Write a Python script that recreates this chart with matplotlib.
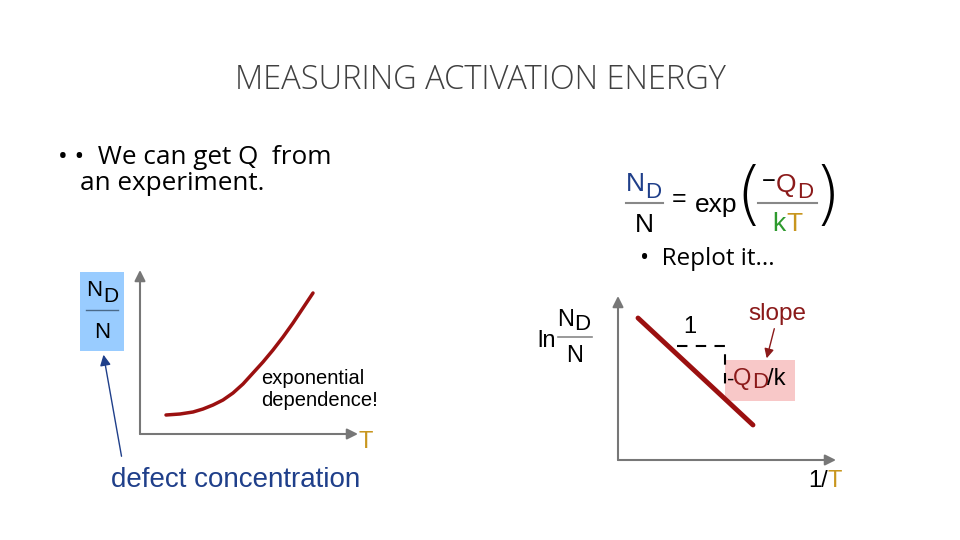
import matplotlib.pyplot as plt
from matplotlib.patches import Rectangle

# slide texts
title = "MEASURING ACTIVATION ENERGY"
bullet_lines = ["• •  We can get Q  from", "an experiment."]
replot_text = "•  Replot it..."

# left sketch: N_D/N vs T (exponential curve)
temp = [26, 40, 53, 63, 73, 83, 93, 103, 113, 123, 133, 143, 153, 163, 173]
conc = [19, 20, 22, 25, 29, 34, 41, 50, 61, 72, 84, 97, 111, 126, 141]

# right sketch: ln(N_D/N) vs 1/T (straight line)
inv_temp = [20, 135]
ln_conc = [142, 35]
tri_x = [59, 107, 107]
tri_y = [114, 114, 70]

W, H = 960, 540
fig = plt.figure(figsize=(9.6, 5.4), dpi=100)
ax = fig.add_axes([0, 0, 1, 1])
ax.set_xlim(0, W)
ax.set_ylim(H, 0)
ax.axis("off")

plt.rcParams["font.family"] = ["Open Sans", "DejaVu Sans"]
sf = ["Liberation Sans", "DejaVu Sans"]
navy = "#1f3f8a"
dred = "#8b1a1a"
gold = "#c8961e"
green = "#2e9a2e"

ax.text(480, 80, title, ha="center", va="center", fontsize=23.5, color="#404040",
        fontweight="light")
ax.text(58, 157, bullet_lines[0], ha="left", va="center", fontsize=18.8, color="black")
ax.text(80, 183, bullet_lines[1], ha="left", va="center", fontsize=18.8, color="black")
ax.text(640, 259, replot_text, ha="left", va="center", fontsize=17.5, color="black")

# formula N_D/N = exp(-Q_D/kT)
ax.text(626, 184, "N", ha="left", va="center", fontsize=19, color=navy, family=sf)
ax.text(645, 192, "D", ha="left", va="center", fontsize=16, color=navy, family=sf)
ax.plot([626, 663], [203, 203], color="#888888", lw=1.5)
ax.text(644, 225, "N", ha="center", va="center", fontsize=19, color="black", family=sf)
ax.text(679, 199, "=", ha="center", va="center", fontsize=18, color="black", family=sf)
ax.text(716, 205, "exp", ha="center", va="center", fontsize=19, color="black", family=sf)
ax.text(749, 198, "(", ha="center", va="center", fontsize=50, color="black",
        family="DejaVu Sans", fontweight="ultralight")
ax.text(827, 198, ")", ha="center", va="center", fontsize=50, color="black",
        family="DejaVu Sans", fontweight="ultralight")
ax.text(762, 182, "−", ha="left", va="center", fontsize=17, color="black", family=sf)
ax.text(776, 185, "Q", ha="left", va="center", fontsize=19, color=dred, family=sf)
ax.text(797, 192, "D", ha="left", va="center", fontsize=16, color=dred, family=sf)
ax.plot([758, 817], [203, 203], color="#888888", lw=1.5)
ax.text(772, 224, "k", ha="left", va="center", fontsize=19, color=green, family=sf)
ax.text(786, 224, "T", ha="left", va="center", fontsize=19, color=gold, family=sf)

# ---- left sketch ----
ax.add_patch(Rectangle((80, 272), 44, 79, color="#99ccff", lw=0))
ax.text(86, 291, "N", ha="left", va="center", fontsize=16, color="black", family=sf)
ax.text(103, 296, "D", ha="left", va="center", fontsize=15, color="black", family=sf)
ax.plot([86, 118], [310, 310], color="#4a6a8a", lw=1)
ax.text(102, 333, "N", ha="center", va="center", fontsize=16, color="black", family=sf)
ax.annotate("", xy=(103, 352), xytext=(122, 459),
            arrowprops=dict(arrowstyle="-|>", color=navy, lw=1, mutation_scale=16))
ax.text(236, 480, "defect concentration", ha="center", va="center", fontsize=20,
        color=navy, family=sf)
ax.text(261, 378, "exponential", ha="left", va="center", fontsize=14.5, color="black", family=sf)
ax.text(261, 401, "dependence!", ha="left", va="center", fontsize=14.5, color="black", family=sf)
ax.text(366, 442, "T", ha="center", va="center", fontsize=17, color=gold, family=sf)

ax1 = fig.add_axes([140 / W, (H - 434) / H, 220 / W, 161 / H])
ax1.set_xlim(0, 220)
ax1.set_ylim(0, 161)
ax1.axis("off")
ax1.plot(temp, conc, color="#9b1010", lw=2.5, solid_capstyle="round")
ax1.annotate("", xy=(0, 164), xytext=(0, 0),
             arrowprops=dict(arrowstyle="-|>", color="#777777", lw=1.5, mutation_scale=16,
                             shrinkA=0, shrinkB=0), annotation_clip=False)
ax1.annotate("", xy=(218, 0), xytext=(0, 0),
             arrowprops=dict(arrowstyle="-|>", color="#777777", lw=1.5, mutation_scale=16,
                             shrinkA=0, shrinkB=0), annotation_clip=False)

# ---- right sketch ----
ax.text(547, 341, "ln", ha="center", va="center", fontsize=17, color="black", family=sf)
ax.text(557, 320, "N", ha="left", va="center", fontsize=17, color="black", family=sf)
ax.text(574, 325, "D", ha="left", va="center", fontsize=16, color="black", family=sf)
ax.plot([558, 592], [337, 337], color="#888888", lw=1.2)
ax.text(575, 356, "N", ha="center", va="center", fontsize=17, color="black", family=sf)
ax.add_patch(Rectangle((725, 360), 70, 41, color="#f8c8c8", lw=0))
ax.text(727, 380, "-", ha="left", va="center", fontsize=16, color="black", family=sf)
ax.text(733, 379, "Q", ha="left", va="center", fontsize=17, color=dred, family=sf)
ax.text(752, 383, "D", ha="left", va="center", fontsize=16, color=dred, family=sf)
ax.text(767, 379, "/k", ha="left", va="center", fontsize=17, color="black", family=sf)
ax.text(690, 327, "1", ha="center", va="center", fontsize=17, color="black", family=sf)
ax.text(777, 314, "slope", ha="center", va="center", fontsize=17.5, color=dred, family=sf)
ax.annotate("", xy=(766, 361), xytext=(775, 326),
            arrowprops=dict(arrowstyle="-|>", color=dred, lw=1, mutation_scale=14))
ax.text(808, 481, "1/", ha="left", va="center", fontsize=17, color="black", family=sf)
ax.text(827, 481, "T", ha="left", va="center", fontsize=17, color=gold, family=sf)

ax2 = fig.add_axes([618 / W, (H - 460) / H, 217 / W, 162 / H])
ax2.set_xlim(0, 217)
ax2.set_ylim(0, 162)
ax2.axis("off")
ax2.plot(tri_x, tri_y, color="black", lw=1.5, ls=(0, (5, 4)))
ax2.plot(inv_temp, ln_conc, color="#9b1010", lw=3.5, solid_capstyle="round")
ax2.annotate("", xy=(0, 164), xytext=(0, 0),
             arrowprops=dict(arrowstyle="-|>", color="#777777", lw=1.5, mutation_scale=16,
                             shrinkA=0, shrinkB=0), annotation_clip=False)
ax2.annotate("", xy=(218, 0), xytext=(0, 0),
             arrowprops=dict(arrowstyle="-|>", color="#777777", lw=1.5, mutation_scale=16,
                             shrinkA=0, shrinkB=0), annotation_clip=False)

fig.savefig("out.png", dpi=100)
